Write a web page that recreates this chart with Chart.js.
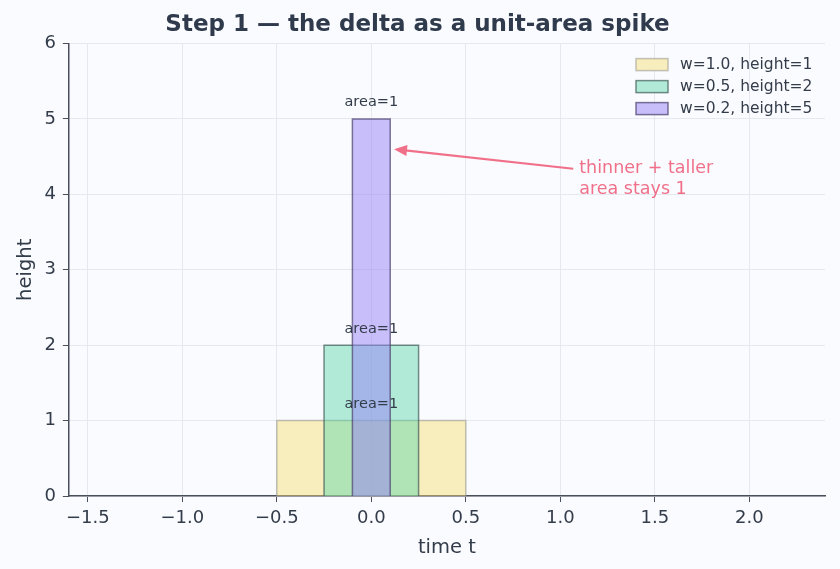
<!DOCTYPE html>
<html>
<head>
<meta charset="utf-8">
<script src="https://cdn.jsdelivr.net/npm/chart.js@4.4.1/dist/chart.umd.min.js"></script>
<style>
  html, body { margin: 0; padding: 0; background: #fafbfe; }
  #wrap { width: 840px; height: 569px; }
</style>
</head>
<body>
<div id="wrap"><canvas id="grafica"></canvas></div>
<script>
// datos: pulsos rectangulares de area 1
var etiquetas = ["w=1.0, height=1", "w=0.5, height=2", "w=0.2, height=5"];
var anchos = [1.0, 0.5, 0.2];
var alturas = [1, 2, 5];
var textoArea = ["area=1", "area=1", "area=1"];
var xTicks = [-1.5, -1.0, -0.5, 0.0, 0.5, 1.0, 1.5, 2.0];
var yTicks = [0, 1, 2, 3, 4, 5, 6];
var notaTexto = ["thinner + taller", "area stays 1"];
var notaPunto = [0.12, 4.6];
var notaTextoPos = [1.1, 4.3];

var rellenos = ["rgba(247,220,111,0.45)", "rgba(88,214,170,0.45)", "rgba(150,130,245,0.5)"];
var bordes = ["rgba(150,150,140,0.55)", "rgba(70,100,95,0.75)", "rgba(80,70,115,0.75)"];
var colorTexto = "#333c4a";
var fuente = "'DejaVu Sans', sans-serif";

// cada pulso como un rectangulo con relleno hasta el origen
var datasets = [];
for (var i = 0; i < anchos.length; i++) {
  var w = anchos[i], h = alturas[i];
  datasets.push({
    label: etiquetas[i],
    data: [{x: -w / 2, y: 0}, {x: -w / 2, y: h}, {x: w / 2, y: h}, {x: w / 2, y: 0}],
    showLine: true,
    fill: 'origin',
    backgroundColor: rellenos[i],
    borderColor: bordes[i],
    borderWidth: 1.5,
    pointRadius: 0,
    tension: 0,
    order: anchos.length - i
  });
}

var fondo = {
  id: 'fondo',
  beforeDraw: function(chart) {
    var ctx = chart.ctx;
    ctx.save();
    ctx.fillStyle = "#fafbfe";
    ctx.fillRect(0, 0, chart.width, chart.height);
    ctx.restore();
  }
};

var extras = {
  id: 'extras',
  afterDraw: function(chart) {
    var ctx = chart.ctx;
    var sx = chart.scales.x, sy = chart.scales.y;
    ctx.save();

    // textos "area=1"
    ctx.font = "14.5px " + fuente;
    ctx.fillStyle = colorTexto;
    ctx.textAlign = "center";
    ctx.textBaseline = "bottom";
    for (var i = 0; i < alturas.length; i++) {
      ctx.fillText(textoArea[i], sx.getPixelForValue(0), sy.getPixelForValue(alturas[i] + 0.12));
    }

    // flecha de la nota
    var tx = sx.getPixelForValue(notaTextoPos[0]), ty = sy.getPixelForValue(notaTextoPos[1]);
    var x0 = tx - 6, y0 = ty - 3;
    var x1 = sx.getPixelForValue(notaPunto[0]), y1 = sy.getPixelForValue(notaPunto[1]);
    var ang = Math.atan2(y1 - y0, x1 - x0);
    ctx.strokeStyle = "#f0708a";
    ctx.fillStyle = "#f0708a";
    ctx.lineWidth = 2.2;
    ctx.beginPath();
    ctx.moveTo(x0, y0);
    ctx.lineTo(x1 - 9 * Math.cos(ang), y1 - 9 * Math.sin(ang));
    ctx.stroke();
    ctx.beginPath();
    ctx.moveTo(x1, y1);
    ctx.lineTo(x1 - 13 * Math.cos(ang) + 5.5 * Math.sin(ang), y1 - 13 * Math.sin(ang) - 5.5 * Math.cos(ang));
    ctx.lineTo(x1 - 13 * Math.cos(ang) - 5.5 * Math.sin(ang), y1 - 13 * Math.sin(ang) + 5.5 * Math.cos(ang));
    ctx.closePath();
    ctx.fill();

    ctx.font = "17.5px " + fuente;
    ctx.textAlign = "left";
    ctx.textBaseline = "middle";
    ctx.fillText(notaTexto[0], tx, ty - 3);
    ctx.fillText(notaTexto[1], tx, ty + 18);

    // leyenda
    var lx = chart.chartArea.right - 189, ly = chart.chartArea.top + 21;
    ctx.font = "15.5px " + fuente;
    ctx.textBaseline = "middle";
    for (var j = 0; j < etiquetas.length; j++) {
      var yy = ly + j * 22;
      ctx.fillStyle = "#fafbfe";
      ctx.fillRect(lx, yy - 6, 32, 12);
      ctx.fillStyle = rellenos[j];
      ctx.fillRect(lx, yy - 6, 32, 12);
      ctx.strokeStyle = bordes[j];
      ctx.lineWidth = 1.5;
      ctx.strokeRect(lx, yy - 6, 32, 12);
      ctx.fillStyle = colorTexto;
      ctx.fillText(etiquetas[j], lx + 44, yy);
    }
    ctx.restore();
  }
};

var contenedor = document.getElementById('grafica').getContext('2d');
var grafica = new Chart(contenedor, {
  type: 'scatter',
  data: { datasets: datasets },
  options: {
    responsive: true,
    maintainAspectRatio: false,
    animation: false,
    layout: { padding: { left: 10, right: 15, top: 0, bottom: 5 } },
    plugins: {
      legend: { display: false },
      tooltip: { enabled: false },
      title: {
        display: true,
        text: "Step 1 \u2014 the delta as a unit-area spike",
        color: "#2f3a4c",
        font: { family: fuente, size: 23, weight: 'bold' },
        padding: { top: 11, bottom: 5 }
      }
    },
    scales: {
      x: {
        type: 'linear',
        min: -1.6,
        max: 2.4,
        afterBuildTicks: function(scale) {
          scale.ticks = xTicks.map(function(v) { return {value: v}; });
        },
        ticks: {
          color: colorTexto,
          font: { family: fuente, size: 18 },
          maxRotation: 0,
          padding: 6,
          callback: function(v) { return v.toFixed(1).replace('-', '\u2212'); }
        },
        grid: { color: "#e6e8f0", tickColor: "#4a4f5c", tickLength: 6 },
        border: { color: "#4a4f5c", width: 1.5 },
        title: { display: true, text: "time t", color: colorTexto, font: { family: fuente, size: 19.5 }, padding: { top: 1 } }
      },
      y: {
        min: 0,
        max: 6,
        afterBuildTicks: function(scale) {
          scale.ticks = yTicks.map(function(v) { return {value: v}; });
        },
        ticks: {
          color: colorTexto,
          font: { family: fuente, size: 18 },
          padding: 7
        },
        grid: { color: "#e6e8f0", tickColor: "#4a4f5c", tickLength: 6 },
        border: { color: "#4a4f5c", width: 1.5 },
        title: { display: true, text: "height", color: colorTexto, font: { family: fuente, size: 19.5 }, padding: { bottom: 0 } }
      }
    }
  },
  plugins: [fondo, extras]
});
</script>
</body>
</html>
